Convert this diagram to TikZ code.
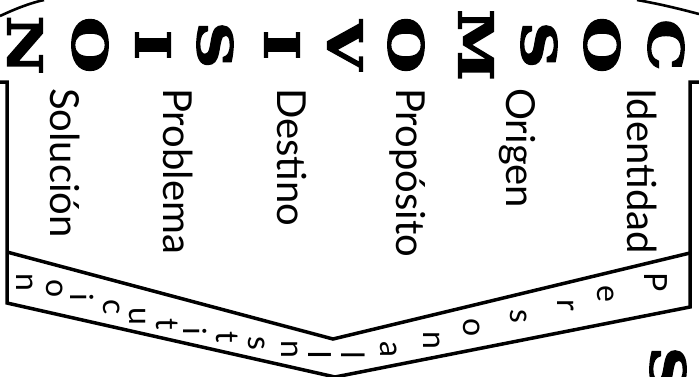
\documentclass[tikz,border=0pt]{standalone}
\usepackage{fontspec}
\setmainfont{Lato}
\newfontfamily\capfont[FakeStretch=1.35, FakeBold=3]{DejaVu Serif Bold}
\usetikzlibrary{positioning, calc}
\tikzset{
  frameline/.style={line width=3.5pt, line join=miter, line cap=butt},
  arcline/.style={line width=2.6pt},
  bigletter/.style={
    font=\capfont\fontsize{48}{48}\selectfont,
    rotate=-90, inner sep=0pt
  },
  wordlabel/.style={
    font=\fontsize{40}{40}\selectfont,
    rotate=-90, anchor=base west, inner sep=0pt
  },
  bandletter/.style={
    font=\fontsize{32}{32}\selectfont,
    rotate=-90, inner sep=0pt
  },
}

\begin{document}
\begin{tikzpicture}[x=1pt, y=-1pt]
  \useasboundingbox (0,0) rectangle (699,376);
  \clip (0,0) rectangle (699,376);

  % Title letters
  \foreach \ch/\px [count=\i] in {N/25, O/90, I/153, S/215, I/282, V/345,
      O/406, M/476, S/539, O/602, C/666}
    \node[bigletter] (cap\i) at (\px,45) {\ch};
  \node[bigletter] (capnext) at (668,370) {S};

  % Outer arc pieces
  \draw[arcline] (0,16) .. controls (15,9) and (30,3) .. (44,0);
  \draw[arcline] (637,0) .. controls (660,4) and (680,9) .. (699,14);

  % Frame
  \coordinate (lstub) at (0,82);
  \coordinate (ltop) at (7,82);
  \coordinate (lmid) at (7,252);
  \coordinate (lbot) at (7,303);
  \coordinate (vin) at (333,339);
  \coordinate (vout) at (335,377);
  \coordinate (rtop) at (690,82);
  \coordinate (rmid) at (690,253);
  \coordinate (rbot) at (690,307);
  \coordinate (rstub) at (699,82);
  \draw[frameline] (lstub) -- (ltop) -- (lbot) -- (vout) -- (rbot) -- (rtop) -- (rstub);
  \draw[frameline] (lmid) -- (vin) -- (rmid);

  % Words
  \node[wordlabel] (identidad) at (627,88) {Identidad};
  \node[wordlabel] (origen) at (506,88) {Origen};
  \node[wordlabel] (proposito) at (396,88) {Propósito};
  \node[wordlabel] (destino) at (277,88) {Destino};
  \node[wordlabel] (problema) at (163,88) {Problema};
  \node[wordlabel] (solucion) at (50,88) {Solución};

  % Band text
  \foreach \ch/\px/\py [count=\i] in {P/656/282, e/606/294, r/566/305, s/519/316,
      o/472/328, n/432/340, a/389/349, l/353/355}
    \node[bandletter] (per\i) at (\px,\py) {\ch};
  \foreach \ch/\px/\py [count=\i] in {I/320/355, n/290/349, s/257/343, t/227/337,
      i/195/331, t/167/324, u/137/316, c/112/307, i/82/297, o/55/289, n/25/282}
    \node[bandletter] (ins\i) at (\px,\py) {\ch};
\end{tikzpicture}
\end{document}
